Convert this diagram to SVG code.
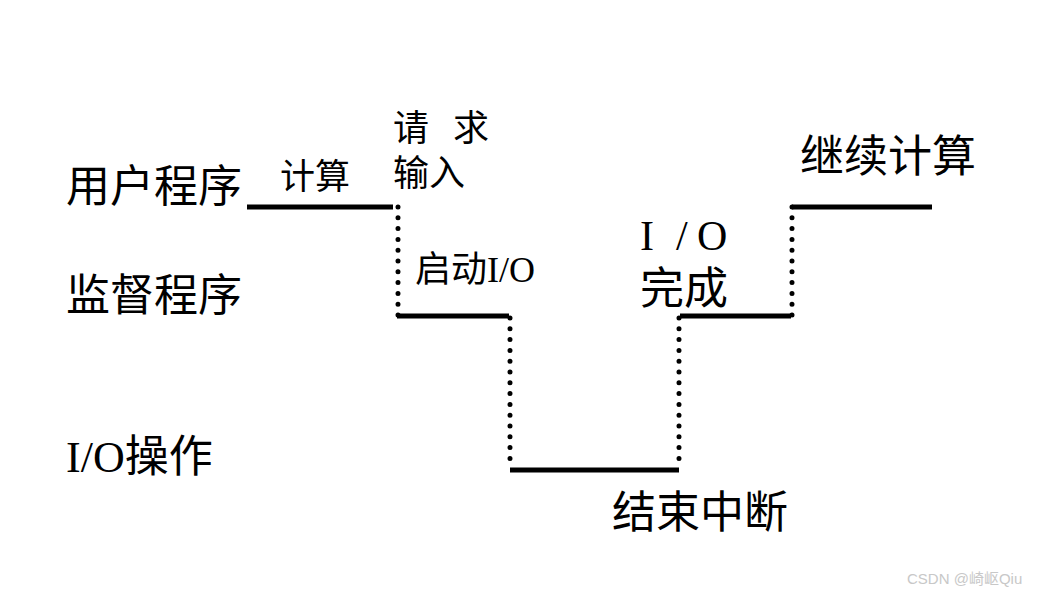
<svg xmlns="http://www.w3.org/2000/svg" width="1059" height="594" viewBox="0 0 1059 594">
<style>
.t{font-family:"Liberation Serif","Noto Sans CJK SC",serif;fill:#000}
.s{stroke:#000;stroke-width:5;fill:none}
.d{stroke:#000;stroke-width:5;stroke-linecap:round;stroke-dasharray:0 10.8;fill:none}
</style>
<rect width="1059" height="594" fill="#fff"/>
<g id="labels">
<text class="t" x="66" y="202" font-size="44">用户程序</text>
<text class="t" x="66" y="311" font-size="44">监督程序</text>
<text class="t" x="66" y="472" font-size="44">I/O操作</text>
</g>
<g id="node-compute"><text class="t" x="280" y="189" font-size="35">计算</text></g>
<g id="node-request"><text class="t" x="393" y="141" font-size="36">请</text><text class="t" x="453" y="141" font-size="36">求</text><text class="t" x="393" y="186" font-size="36">输入</text></g>
<g id="node-start"><text class="t" x="415" y="282" font-size="36">启动I/O</text></g>
<g id="node-done"><text class="t" x="640" y="250" font-size="42">I</text><text class="t" x="676" y="250" font-size="42">/</text><text class="t" x="697" y="250" font-size="42">O</text><text class="t" x="640" y="304" font-size="44">完成</text></g>
<g id="node-continue"><text class="t" x="800" y="172" font-size="44">继续计算</text></g>
<g id="node-end"><text class="t" x="612" y="528" font-size="44">结束中断</text></g>
<g id="connectors">
<line class="s" x1="247" y1="207" x2="393" y2="207"/>
<line class="d" x1="398" y1="207" x2="398" y2="315"/>
<line class="s" x1="397" y1="316" x2="509" y2="316"/>
<line class="d" x1="510" y1="318" x2="510" y2="469"/>
<line class="s" x1="510" y1="470" x2="679" y2="470"/>
<line class="d" x1="679" y1="318" x2="679" y2="469"/>
<line class="s" x1="680" y1="316" x2="791" y2="316"/>
<line class="d" x1="792" y1="207" x2="792" y2="315"/>
<line class="s" x1="792" y1="207" x2="932" y2="207"/>
</g>
<text x="907" y="584" font-family="Liberation Sans,Noto Sans CJK SC,sans-serif" font-size="15" fill="#c8c8c8">CSDN @崎岖Qiu</text>
</svg>
